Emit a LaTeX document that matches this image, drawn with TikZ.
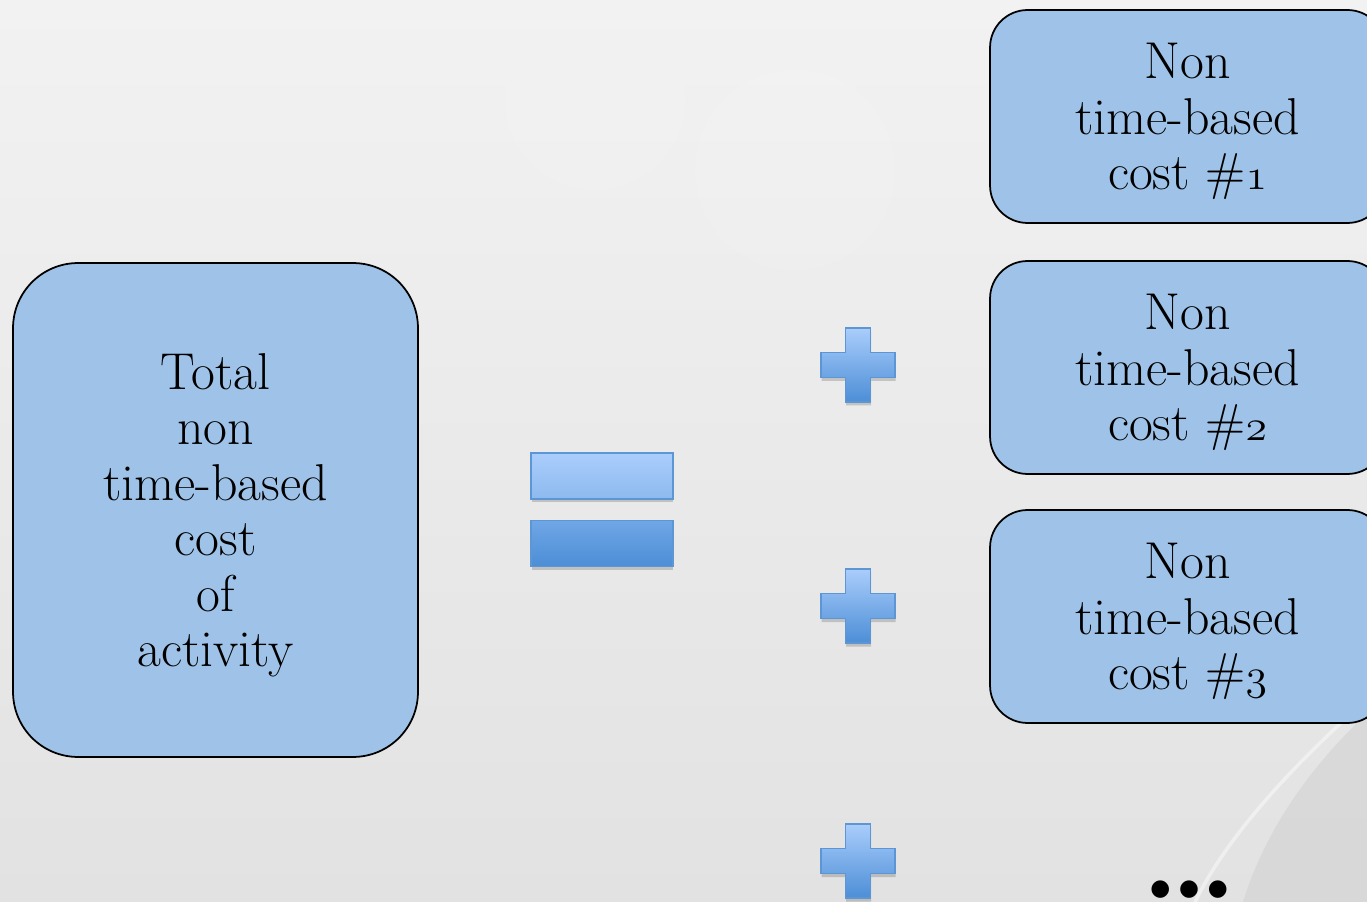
\documentclass[tikz,border=0pt]{standalone}
\usepackage{fontspec}
\usepackage{tikz}
\usetikzlibrary{shadows}
\newfontfamily\symfont{DejaVu Sans}
\newcommand{\osnum}[1]{{\usefont{OML}{lmm}{m}{it}#1}}
\definecolor{CostFill}{HTML}{9FC3E8}
\definecolor{SignLight}{HTML}{AACDFC}
\definecolor{SignMid}{HTML}{8DBAEE}
\definecolor{SignMidDark}{HTML}{70A6E6}
\definecolor{SignDark}{HTML}{4C8ED6}
\definecolor{SignEdge}{HTML}{5C96D4}
\definecolor{BackTop}{HTML}{F2F2F2}
\definecolor{BackBottom}{HTML}{E2E2E2}

\begin{document}
\begin{tikzpicture}[
  x=0.02cm,
  y=-0.02cm,
  costbox/.style={draw=black, line width=1pt, fill=CostFill, align=center, inner sep=0pt, font=\fontsize{29.5}{31.5}\selectfont},
  partbox/.style={costbox, minimum width=7.9cm, minimum height=4.26cm, rounded corners=0.75cm},
  signshadow/.style={drop shadow={shadow xshift=0.01cm, shadow yshift=-0.07cm, opacity=0.25, fill=black!70}},
  signpart/.style={draw=SignEdge, line width=0.8pt, signshadow},
  eqbar/.style={signpart, rectangle, minimum width=2.84cm, minimum height=0.92cm, inner sep=0pt}
]
\useasboundingbox (0,0) rectangle (1367,902);
\clip (0,0) rectangle (1367,902);
% background
\shade[top color=BackTop, bottom color=BackBottom] (0,0) rectangle (1367,902);
\fill[white, opacity=0.07] (595,100) circle (90);
\fill[white, opacity=0.09] (795,170) circle (100);
\fill[black!20, opacity=0.45] (1367,712) -- (1353,727) .. controls (1300,780) and (1262,840) .. (1243,902) -- (1367,902) -- cycle;
\draw[white, opacity=0.45, line width=0.07cm] (1342,722) .. controls (1285,775) and (1225,840) .. (1195,902);

% left side
\node[costbox, minimum width=8.1cm, minimum height=9.88cm, rounded corners=1.3cm, text depth=-0.1cm] (total) at (215.5,510)
  {Total\\non\\time-based\\cost\\of\\activity};

% equals sign
\node[eqbar, top color=SignLight, bottom color=SignMid] (eqtop) at (602,476) {};
\node[eqbar, top color=SignMidDark, bottom color=SignDark] (eqbottom) at (602,543.5) {};

% right side
\foreach \n/\y in {1/116.5, 2/367.5, 3/616.5}
  \node[partbox, text depth=-0.14cm] (cost\n) at (1187.5,\y) {Non\\time-based\\cost \#\osnum{\n}};
\foreach \y in {365, 606, 861}
  \path[signpart, top color=SignLight, bottom color=SignDark, shift={(858,\y)}]
    (-12.5,-37) -- (12.5,-37) -- (12.5,-12.5) -- (37,-12.5) -- (37,12.5) -- (12.5,12.5)
    -- (12.5,37) -- (-12.5,37) -- (-12.5,12.5) -- (-37,12.5) -- (-37,-12.5) -- (-12.5,-12.5) -- cycle;
\node[font=\symfont\fontsize{13}{15}\selectfont, inner sep=0pt] (more) at (1189,890)
  {●\kern5pt●\kern5pt●};
\end{tikzpicture}
\end{document}
